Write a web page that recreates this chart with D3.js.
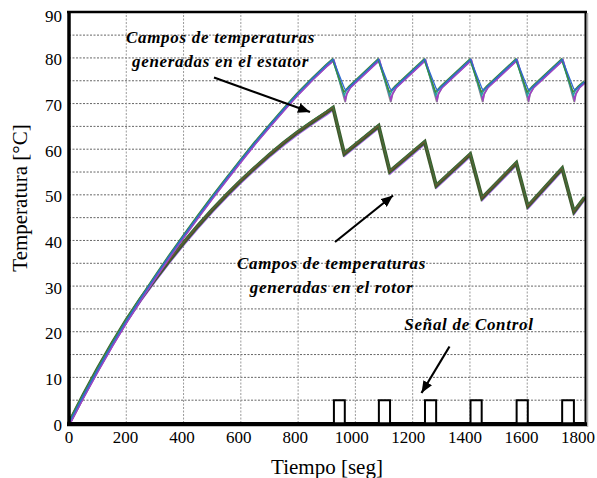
<!DOCTYPE html>
<html>
<head>
<meta charset="utf-8">
<script src="https://cdn.jsdelivr.net/npm/d3@7"></script>
<style>
  body { margin: 0; background: #fff; }
</style>
</head>
<body>
<svg id="chart" width="597" height="478" font-family="Liberation Serif"></svg>
<script>
// Heating phase (shared by all traces), time in seconds
const tiempoSubida = [0, 50, 100, 150, 200, 250, 300, 350, 400, 450, 500, 550, 600, 650, 700, 750, 800, 850, 900];
const estatorSubida = [0, 6.0, 11.7, 17.2, 22.4, 27.3, 32.0, 36.6, 41.0, 45.3, 49.5, 53.6, 57.6, 61.5, 65.2, 68.8, 72.3, 75.5, 78.5];
const rotorSubida   = [0, 6.1, 11.9, 17.4, 22.5, 27.2, 31.5, 35.6, 39.5, 43.2, 46.7, 50.0, 53.1, 56.0, 58.8, 61.4, 63.8, 66.0, 68.1];

// Stator traces once the control signal starts switching
const tiempoEstator = [922, 962, 967, 980, 1081, 1121, 1127, 1140, 1242, 1282, 1287, 1300,
                       1402, 1442, 1447, 1460, 1562, 1602, 1607, 1620, 1722, 1762, 1767, 1780, 1800];
const estatorA = [79.7, 73.3, 72.9, 73.7, 79.7, 73.3, 72.9, 73.7, 79.7, 73.3, 72.9, 73.7,
                  79.7, 73.3, 72.9, 73.7, 79.7, 73.3, 72.9, 73.7, 79.7, 73.3, 72.9, 73.7, 74.8];
const estatorB = [79.7, 72.5, 72.8, 73.7, 79.7, 72.5, 72.8, 73.7, 79.7, 72.5, 72.8, 73.7,
                  79.7, 72.5, 72.8, 73.7, 79.7, 72.5, 72.8, 73.7, 79.7, 72.5, 72.8, 73.7, 74.8];
const estatorC = [79.7, 71.8, 72.6, 73.7, 79.7, 71.8, 72.6, 73.7, 79.7, 71.8, 72.6, 73.7,
                  79.7, 71.8, 72.6, 73.7, 79.7, 71.8, 72.6, 73.7, 79.7, 71.8, 72.6, 73.7, 74.8];
const estatorD = [79.7, 71.1, 72.4, 73.7, 79.7, 71.1, 72.4, 73.7, 79.7, 71.1, 72.4, 73.7,
                  79.7, 71.1, 72.4, 73.7, 79.7, 71.1, 72.4, 73.7, 79.7, 71.1, 72.4, 73.7, 74.8];
const estatorE = [79.7, 70.5, 72.2, 73.7, 79.7, 70.5, 72.2, 73.7, 79.7, 70.5, 72.2, 73.7,
                  79.7, 70.5, 72.2, 73.7, 79.7, 70.5, 72.2, 73.7, 79.7, 70.5, 72.2, 73.7, 74.8];

// Rotor band once the control signal starts switching
const tiempoRotor = [922, 961, 1081, 1120, 1242, 1282, 1401, 1442, 1562, 1602, 1722, 1763, 1800];
const rotorCiclo  = [69.1, 59.0, 65.1, 55.1, 61.6, 52.0, 58.9, 49.3, 57.0, 47.5, 55.8, 46.3, 49.4];

// Control signal pulses
const pulsoInicio = [925, 1082, 1243, 1402, 1563, 1722];
const pulsoFin    = [963, 1121, 1282, 1441, 1602, 1763];
const pulsoNivel  = 5;

const ticksX = [0, 200, 400, 600, 800, 1000, 1200, 1400, 1600, 1800];
const ticksY = [0, 10, 20, 30, 40, 50, 60, 70, 80, 90];
const gridY  = [5, 10, 15, 20, 25, 30, 35, 40, 45, 50, 55, 60, 65, 70, 75, 80, 85];
const gridX  = [200, 400, 600, 800, 1000, 1200, 1400, 1600];

const svg = d3.select("#chart");
const x = d3.scaleLinear().domain([0, 1800]).range([69, 584.5]);
const xEtiqueta = d3.scaleLinear().domain([0, 1800]).range([69, 578]);
const y = d3.scaleLinear().domain([0, 90]).range([423, 12.3]);
const fuente = "Liberation Serif";

const texto = (sel) => sel.attr("font-family", fuente).style("font-family", `"${fuente}"`);

// grid
const grid = svg.append("g");
grid.selectAll("line.gy").data(gridY).join("line")
  .attr("x1", x(0)).attr("x2", x(1800))
  .attr("y1", d => y(d)).attr("y2", d => y(d))
  .attr("stroke", "#666").attr("stroke-width", 1).attr("stroke-dasharray", "2,1.5");
grid.selectAll("line.gx").data(gridX).join("line")
  .attr("x1", d => x(d)).attr("x2", d => x(d))
  .attr("y1", y(0)).attr("y2", y(90))
  .attr("stroke", "#9a9a9a").attr("stroke-width", 1).attr("stroke-dasharray", "2,1.5");

const linea = d3.line().x(d => x(d[0])).y(d => y(d[1]));
const unir = (t, v) => t.map((ti, i) => [ti, v[i]]);

const subidaEst = unir(tiempoSubida, estatorSubida);
const subidaRot = unir(tiempoSubida, rotorSubida);

// rotor band: several overlapping traces
const rotor = subidaRot.concat(unir(tiempoRotor, rotorCiclo));
const capas = svg.append("g").attr("fill", "none").attr("stroke-linejoin", "miter");
capas.append("path").datum(rotor).attr("d", linea)
  .attr("stroke", "#a66ae8").attr("stroke-width", 1.8).attr("transform", "translate(0.3,2.2)");
capas.append("path").datum(rotor).attr("d", linea)
  .attr("stroke", "#3c5a2c").attr("stroke-width", 3.8);
capas.append("path").datum(rotor).attr("d", linea)
  .attr("stroke", "#7a5032").attr("stroke-width", 1.2).attr("transform", "translate(0,-0.5)");
capas.append("path").datum(rotor).attr("d", linea)
  .attr("stroke", "#2e7a3e").attr("stroke-width", 0.9).attr("transform", "translate(0,-1.5)");

// stator traces
const trazas = [
  { v: estatorE, c: "#8c8c8c", w: 1.8, dx: 0.7, dy: 0.7 },
  { v: estatorD, c: "#a040c8", w: 1.6, dx: 0.9, dy: 1.0 },
  { v: estatorC, c: "#2aa0a0", w: 1.5, dx: -0.4, dy: 0.2 },
  { v: estatorB, c: "#3c8c3a", w: 1.5, dx: -0.7, dy: -0.3 },
  { v: estatorA, c: "#2f6ad0", w: 1.3, dx: 0, dy: 0 }
];
trazas.forEach(tr => {
  capas.append("path").datum(subidaEst.concat(unir(tiempoEstator, tr.v))).attr("d", linea)
    .attr("stroke", tr.c).attr("stroke-width", tr.w)
    .attr("transform", `translate(${tr.dx},${tr.dy})`);
});

// control signal
const senal = [[0, 0]];
pulsoInicio.forEach((t0, i) => {
  senal.push([t0, 0], [t0, pulsoNivel], [pulsoFin[i], pulsoNivel], [pulsoFin[i], 0]);
});
senal.push([1800, 0]);
svg.append("path").datum(senal).attr("d", linea)
  .attr("fill", "none").attr("stroke", "#000").attr("stroke-width", 2);

// frame
const marco = svg.append("g").attr("stroke", "#000");
marco.append("line").attr("x1", 587.5).attr("x2", 587.5).attr("y1", 13).attr("y2", 427)
  .attr("stroke", "#b0b0b0").attr("stroke-width", 1.5);
marco.append("line").attr("x1", 67).attr("x2", 587).attr("y1", 12).attr("y2", 12).attr("stroke-width", 2.5);
marco.append("line").attr("x1", 585.5).attr("x2", 585.5).attr("y1", 11).attr("y2", 426).attr("stroke-width", 2);
marco.append("line").attr("x1", 67).attr("x2", 587).attr("y1", 424.2).attr("y2", 424.2).attr("stroke-width", 4);
marco.append("line").attr("x1", 69).attr("x2", 69).attr("y1", 11).attr("y2", 426).attr("stroke-width", 3.5);

// tick labels
svg.append("g").selectAll("text").data(ticksX).join("text")
  .call(texto)
  .attr("x", d => xEtiqueta(d)).attr("y", 443)
  .attr("text-anchor", "middle").style("font-size", "17px")
  .text(d => d);
svg.append("g").selectAll("text").data(ticksY).join("text")
  .call(texto)
  .attr("x", 62).attr("y", d => y(d) + (d === 90 ? 10 : 7.5))
  .attr("text-anchor", "end").style("font-size", "17px")
  .text(d => d);

// axis titles
svg.append("text").call(texto).attr("x", 327).attr("y", 474).attr("text-anchor", "middle")
  .style("font-size", "21px").text("Tiempo [seg]");
svg.append("text").call(texto).attr("transform", "translate(27,198) rotate(-90)").attr("text-anchor", "middle")
  .style("font-size", "21px").text("Temperatura [°C]");

// annotations
const nota = (lineas, cx, y0) => {
  lineas.forEach((s, i) => {
    svg.append("text").call(texto).attr("x", cx).attr("y", y0 + i * 24.5).attr("text-anchor", "middle")
      .style("font-size", "17px").style("font-weight", "bold")
      .style("font-style", "italic").style("letter-spacing", "0.7px").text(s);
  });
};
nota(["Campos de temperaturas", "generadas en el estator"], 220.5, 42.5);
nota(["Campos de temperaturas", "generadas en el rotor"], 331.5, 268.5);
nota(["Señal de Control"], 469, 329.5);

svg.append("defs").append("marker").attr("id", "punta")
  .attr("viewBox", "0 0 12 10").attr("refX", 12).attr("refY", 5)
  .attr("markerWidth", 12).attr("markerHeight", 10).attr("markerUnits", "userSpaceOnUse")
  .attr("orient", "auto")
  .append("path").attr("d", "M0,0 L12,5 L0,10 Z").attr("fill", "#000");

const flechas = [
  [214, 77.5, 310, 112],
  [335, 242, 393, 195.5],
  [449.5, 346.5, 421.5, 393]
];
svg.append("g").selectAll("line").data(flechas).join("line")
  .attr("x1", d => d[0]).attr("y1", d => d[1]).attr("x2", d => d[2]).attr("y2", d => d[3])
  .attr("stroke", "#000").attr("stroke-width", 2.2).attr("marker-end", "url(#punta)");
</script>
</body>
</html>
